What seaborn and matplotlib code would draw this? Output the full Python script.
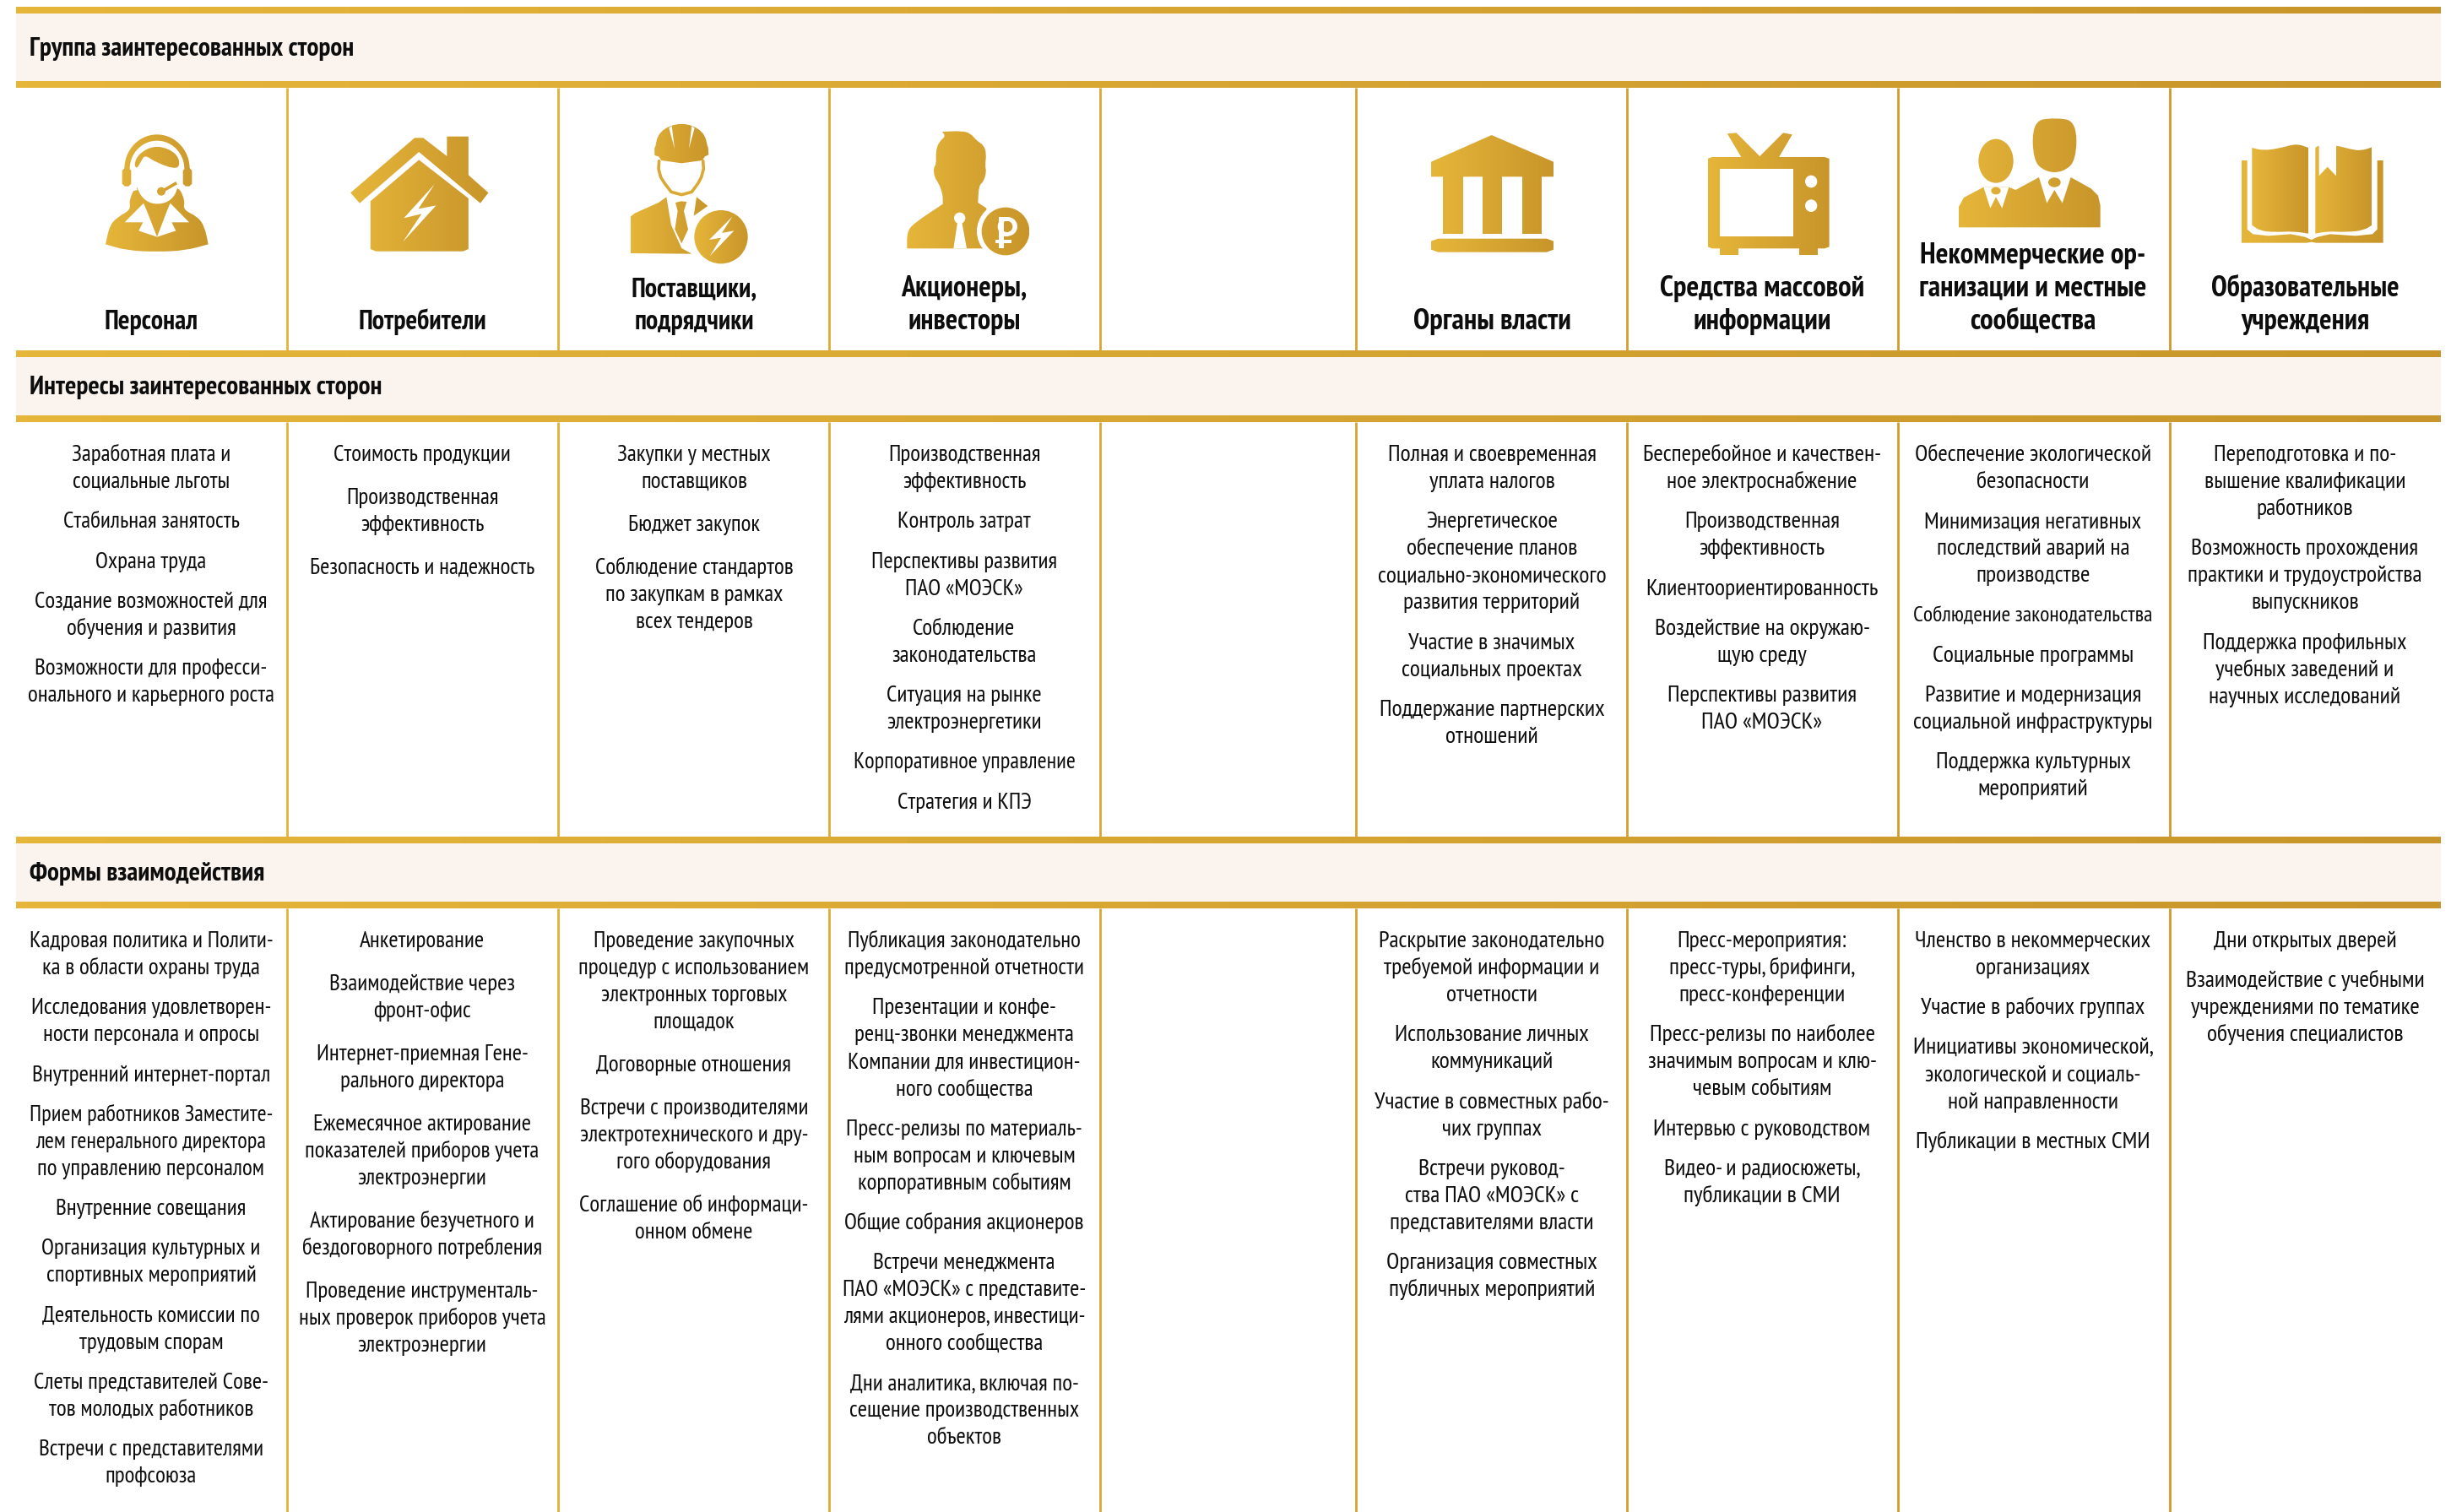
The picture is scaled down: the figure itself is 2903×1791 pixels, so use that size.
import warnings, logging
import numpy as np
import matplotlib
matplotlib.use("Agg")
import matplotlib.pyplot as plt
from matplotlib.path import Path
from matplotlib.patches import PathPatch
import seaborn as sns
logging.getLogger("matplotlib.font_manager").setLevel(logging.ERROR)

W, H = 2903, 1791
GOLD_L, GOLD_R = "#E6B63A", "#C8952A"
CREAM = "#FBF4EE"
INK = "#0D0D0D"

band_titles = ["Группа заинтересованных сторон", "Интересы заинтересованных сторон", "Формы взаимодействия"]

group_labels = [
    ["Персонал"], ["Потребители"], ["Поставщики,", "подрядчики"], ["Акционеры,", "инвесторы"], [],
    ["Органы власти"], ["Средства массовой", "информации"],
    ["Некоммерческие ор-", "ганизации и местные", "сообщества"], ["Образовательные", "учреждения"],
]

interests = [
    [["Заработная плата и", "социальные льготы"], ["Стабильная занятость"], ["Охрана труда"],
     ["Создание возможностей для", "обучения и развития"], ["Возможности для професси-", "онального и карьерного роста"]],
    [["Стоимость продукции"], ["Производственная", "эффективность"], ["Безопасность и надежность"]],
    [["Закупки у местных", "поставщиков"], ["Бюджет закупок"], ["Соблюдение стандартов", "по закупкам в рамках", "всех тендеров"]],
    [["Производственная", "эффективность"], ["Контроль затрат"], ["Перспективы развития", "ПАО «МОЭСК»"],
     ["Соблюдение", "законодательства"], ["Ситуация на рынке", "электроэнергетики"], ["Корпоративное управление"], ["Стратегия и КПЭ"]],
    [],
    [["Полная и своевременная", "уплата налогов"], ["Энергетическое", "обеспечение планов", "социально-экономического", "развития территорий"],
     ["Участие в значимых", "социальных проектах"], ["Поддержание партнерских", "отношений"]],
    [["Бесперебойное и качествен-", "ное электроснабжение"], ["Производственная", "эффективность"], ["Клиентоориентированность"],
     ["Воздействие на окружаю-", "щую среду"], ["Перспективы развития", "ПАО «МОЭСК»"]],
    [["Обеспечение экологической", "безопасности"], ["Минимизация негативных", "последствий аварий на", "производстве"],
     ["Соблюдение законодательства"], ["Социальные программы"], ["Развитие и модернизация", "социальной инфраструктуры"],
     ["Поддержка культурных", "мероприятий"]],
    [["Переподготовка и по-", "вышение квалификации", "работников"], ["Возможность прохождения", "практики и трудоустройства", "выпускников"],
     ["Поддержка профильных", "учебных заведений и", "научных исследований"]],
]

forms = [
    [["Кадровая политика и Полити-", "ка в области охраны труда"], ["Исследования удовлетворен-", "ности персонала и опросы"],
     ["Внутренний интернет-портал"], ["Прием работников Заместите-", "лем генерального директора", "по управлению персоналом"],
     ["Внутренние совещания"], ["Организация культурных и", "спортивных мероприятий"], ["Деятельность комиссии по", "трудовым спорам"],
     ["Слеты представителей Сове-", "тов молодых работников"], ["Встречи с представителями", "профсоюза"]],
    [["Анкетирование"], ["Взаимодействие через", "фронт-офис"], ["Интернет-приемная Гене-", "рального директора"],
     ["Ежемесячное актирование", "показателей приборов учета", "электроэнергии"], ["Актирование безучетного и", "бездоговорного потребления"],
     ["Проведение инструменталь-", "ных проверок приборов учета", "электроэнергии"]],
    [["Проведение закупочных", "процедур с использованием", "электронных торговых", "площадок"], ["Договорные отношения"],
     ["Встречи с производителями", "электротехнического и дру-", "гого оборудования"], ["Соглашение об информаци-", "онном обмене"]],
    [["Публикация законодательно", "предусмотренной отчетности"], ["Презентации и конфе-", "ренц-звонки менеджмента", "Компании для инвестицион-", "ного сообщества"],
     ["Пресс-релизы по материаль-", "ным вопросам и ключевым", "корпоративным событиям"], ["Общие собрания акционеров"],
     ["Встречи менеджмента", "ПАО «МОЭСК» с представите-", "лями акционеров, инвестици-", "онного сообщества"],
     ["Дни аналитика, включая по-", "сещение производственных", "объектов"]],
    [],
    [["Раскрытие законодательно", "требуемой информации и", "отчетности"], ["Использование личных", "коммуникаций"],
     ["Участие в совместных рабо-", "чих группах"], ["Встречи руковод-", "ства ПАО «МОЭСК» с", "представителями власти"],
     ["Организация совместных", "публичных мероприятий"]],
    [["Пресс-мероприятия:", "пресс-туры, брифинги,", "пресс-конференции"], ["Пресс-релизы по наиболее", "значимым вопросам и клю-", "чевым событиям"],
     ["Интервью с руководством"], ["Видео- и радиосюжеты,", "публикации в СМИ"]],
    [["Членство в некоммерческих", "организациях"], ["Участие в рабочих группах"], ["Инициативы экономической,", "экологической и социаль-", "ной направленности"],
     ["Публикации в местных СМИ"]],
    [["Дни открытых дверей"], ["Взаимодействие с учебными", "учреждениями по тематике", "обучения специалистов"]],
]

sns.set_theme(style="white")
plt.rcParams["font.family"] = ["PT Sans Narrow", "Liberation Sans Narrow", "DejaVu Sans"]
warnings.filterwarnings("ignore")

cmap = sns.blend_palette([GOLD_L, GOLD_R], n_colors=256, as_cmap=True)

fig = plt.figure(figsize=(W / 100, H / 100), dpi=100, facecolor="white")
ax = fig.add_axes([0, 0, 1, 1])
ax.set_axis_off()

grad = np.linspace(0, 1, 512).reshape(1, -1)
X0, X1 = 19, 2891
col_edges = [X0, 340, 661, 982, 1303, 1606, 1927, 2248, 2570, X1]
col_centers = [179, 500, 822, 1142, 0, 1767, 2087, 2408, 2730]
para_gap = [47.3, 51, 51, 47.3, 0, 47.3, 47.3, 47.3, 47.3]
body_size = [19.6, 19.6, 19.6, 19.6, 0, 20.1, 20.1, 20.1, 20.1]
label_size = [23, 23, 23, 24.4, 0, 25, 25, 25, 24.3]
size_override = {"Соблюдение законодательства": 18.6, "Прием работников Заместите-": 19.2,
                 "лем генерального директора": 19.2, "Корпоративное управление": 19.2,
                 "Договорные отношения": 19.6}
LINE = 32

def gfill(path, xr, z=3):
    im = ax.imshow(grad, cmap=cmap, vmin=0, vmax=1, aspect="auto", zorder=z,
                   extent=(xr[0], xr[1], H, 0), interpolation="bilinear")
    im.set_clip_path(PathPatch(path, transform=ax.transData, fc="none", ec="none"))

def smooth(pts):
    pts = np.asarray(pts, float)
    n = len(pts)
    verts = [(pts[-1] + pts[0]) / 2]
    codes = [Path.MOVETO]
    for i in range(n):
        m = (pts[i] + pts[(i + 1) % n]) / 2
        verts += [pts[i], m]
        codes += [Path.CURVE3, Path.CURVE3]
    return Path(verts, codes)

def poly(pts):
    return Path(list(pts) + [pts[0]], closed=True)

def ell(cx, cy, rx, ry):
    c = Path.unit_circle()
    return Path(c.vertices * [rx, ry] + [cx, cy], c.codes)

class Icon:
    def __init__(self, ox, oy, sx, sy, xr):
        self.ox, self.oy, self.sx, self.sy = ox, oy, sx, sy
        self.xr = (self.tx(xr[0]), self.tx(xr[1]))
    def tx(self, x): return self.ox + x / self.sx
    def ty(self, y): return self.oy + y / self.sy
    def conv(self, pts): return [(self.tx(x), self.ty(y)) for x, y in pts]
    def gold(self, path, z=3, xr=None):
        gfill(path, xr or self.xr, z)
    def white(self, path, z=3.5):
        ax.add_patch(PathPatch(path, fc="white", ec="none", zorder=z))
    def P(self, pts): return poly(self.conv(pts))
    def S(self, pts): return smooth(self.conv(pts))
    def E(self, cx, cy, rx, ry): return ell(self.tx(cx), self.ty(cy), rx / self.sx, ry / self.sy)
    def R(self, x0, y0, x1, y1):
        return self.P([(x0, y0), (x1, y0), (x1, y1), (x0, y1)])
    def RR(self, x0, y0, x1, y1, k):
        return self.P([(x0 + k, y0), (x1 - k, y0), (x1, y0 + k), (x1, y1 - k), (x1 - k, y1), (x0 + k, y1), (x0, y1 - k), (x0, y0 + k)])

# ---------- bands ----------
for top, bot in [(8, 96), (415, 492), (991, 1068)]:
    ax.add_patch(plt.Rectangle((X0, top), X1 - X0, bot - top, fc=CREAM, ec="none", zorder=1))
for y0, y1 in [(8, 16), (96, 104), (415, 423), (492, 500), (991, 999), (1068, 1076)]:
    ax.imshow(grad, cmap=cmap, vmin=0, vmax=1, aspect="auto", zorder=2,
              extent=(X0, X1, y1, y0), interpolation="bilinear")

# ---------- column rules ----------
pal = sns.blend_palette([GOLD_L, GOLD_R], n_colors=256)
for x in col_edges[1:-1]:
    c = pal[int(255 * (x - X0) / (X1 - X0))]
    for y0, y1 in [(104, 415), (500, 991), (1076, H)]:
        ax.plot([x, x], [y0, y1], color=c, lw=2.0, solid_capstyle="butt", zorder=2)

# ---------- text ----------
for title, yc in zip(band_titles, [56, 457, 1033]):
    ax.text(35, yc + 10, title, fontsize=22.5, fontweight="bold", color=INK, ha="left", va="baseline", zorder=5)

for cx, lab, sz in zip(col_centers, group_labels, label_size):
    for i, line in enumerate(reversed(lab)):
        ax.text(cx, 390 - i * 39, line, fontsize=sz, fontweight="bold", color=INK,
                ha="center", va="baseline", zorder=5)

def draw_col(paras, cx, y0, gap, size):
    y = y0
    for para in paras:
        for j, line in enumerate(para):
            ax.text(cx, y + j * LINE, line, fontsize=size_override.get(line, size), color=INK,
                    ha="center", va="baseline", zorder=5)
        y += (len(para) - 1) * LINE + gap

for i in range(9):
    draw_col(interests[i], col_centers[i], 546, para_gap[i], body_size[i])
    draw_col(forms[i], col_centers[i], 1122, para_gap[i], body_size[i])

# ---------- icons ----------
# 1 headset operator
ic = Icon(110, 150, 3, 3, (45, 410))
ic.gold(ic.S([(45, 418), (45, 418), (60, 350), (90, 320), (135, 295), (128, 262), (155, 205), (300, 205), (328, 262), (320, 295),
              (372, 320), (397, 355), (410, 418), (410, 418), (330, 440), (228, 445), (120, 440)]))
ic.white(ic.S([(150, 150), (155, 220), (185, 265), (232, 278), (280, 262), (305, 215), (305, 130), (230, 60), (170, 90)]))
ic.gold(ic.S([(155, 152), (172, 122), (185, 100), (225, 128), (305, 155), (308, 110), (270, 78), (215, 68), (165, 95), (146, 130)]), 3.7)
im = ax.imshow(grad, cmap=cmap, vmin=0, vmax=1, aspect="auto", zorder=3.8, extent=(ic.xr[0], ic.xr[1], H, 0))
arc = []
for t in np.linspace(np.pi, 2 * np.pi, 40):
    arc.append((228 + 116 * np.cos(t), 150 + 122 * np.sin(t)))
for t in np.linspace(2 * np.pi, np.pi, 40):
    arc.append((228 + 97 * np.cos(t), 150 + 100 * np.sin(t)))
im.set_clip_path(PathPatch(ic.P(arc), transform=ax.transData, fc="none", ec="none"))
ic.gold(ic.RR(104, 147, 136, 212, 9), 3.8)
ic.gold(ic.RR(320, 147, 352, 212, 9), 3.8)
ic.white(ic.P([(140, 205), (150, 205), (158, 225), (132, 232)]), 3.75)
ic.white(ic.P([(180, 272), (113, 340), (178, 340), (163, 370), (228, 392), (190, 295)]))
ic.white(ic.P([(275, 272), (342, 340), (280, 340), (295, 370), (228, 392), (265, 295)]))
ic.gold(ic.E(243, 230, 15, 15), 3.7)
ic.gold(ic.P([(243, 225), (295, 195), (300, 205), (248, 235)]), 3.7)

# 2 house with bolt
ic = Icon(0, 0, 1.568, 3, (651, 907))
ic.gold(ic.P([(651, 685), (770, 490), (786, 490), (830, 555), (830, 485), (870, 485), (870, 622), (907, 685), (892, 722),
              (778, 540), (668, 722)]))
ic.gold(ic.P([(778, 568), (870, 705), (870, 885), (860, 893), (698, 893), (688, 885), (688, 715)]))
ic.white(ic.P([(807, 655), (750, 775), (783, 760), (748, 860), (810, 730), (777, 742)]))

# 3 engineer with bolt
ic = Icon(730, 140, 3, 3, (50, 330))
ic.gold(ic.S([(136, 115), (136, 115), (150, 45), (232, 12), (312, 45), (327, 115), (327, 115)]))
ic.gold(ic.P([(140, 100), (325, 100), (328, 130), (315, 136), (305, 150), (232, 160), (160, 150), (150, 136), (136, 132), (136, 105)]))
ic.white(ic.P([(187, 35), (197, 27), (207, 108)]))
ic.white(ic.P([(268, 27), (278, 35), (258, 108)]))
xs = [152, 150, 158, 172, 195, 232, 268, 290, 302, 310, 308]
ys = [152, 180, 210, 232, 262, 272, 262, 232, 210, 180, 152]
ax.plot([ic.tx(v) for v in xs], [ic.ty(v) for v in ys], color=pal[100], lw=2.6, zorder=3.6)
ic.gold(ic.P([(50, 480), (50, 350), (65, 338), (150, 300), (178, 280), (195, 380), (232, 462), (268, 482)]))
ic.gold(ic.P([(285, 280), (325, 312), (275, 347)]))
ic.gold(ic.P([(210, 300), (230, 295), (250, 297), (240, 330), (255, 395), (232, 445), (208, 395), (218, 330)]))
ic.white(ic.E(372, 422, 108, 108))
ic.gold(ic.E(372, 422, 95, 95), 3.7, (ic.tx(277), ic.tx(467)))
ic.white(ic.P([(412, 350), (330, 432), (372, 425), (332, 490), (418, 400), (375, 408)]), 3.9)

# 4 shareholder with rouble
ic = Icon(1040, 140, 3, 3, (103, 537))
ic.gold(ic.S([(103, 463), (103, 463), (103, 405), (125, 375), (230, 305), (230, 305), (230, 270), (215, 230), (200, 210), (197, 175), (207, 165),
              (205, 120), (215, 85), (240, 65), (228, 48), (228, 48), (300, 45), (330, 55), (350, 80), (375, 95), (385, 125), (380, 170),
              (385, 190), (375, 225), (358, 240), (355, 300), (355, 300), (385, 320), (385, 320), (400, 463), (400, 463)]))
ic.white(ic.E(290, 355, 20, 20))
ic.white(ic.P([(282, 370), (298, 370), (315, 463), (268, 463)]))
ic.white(ic.E(453, 402, 102, 102))
ic.gold(ic.E(453, 402, 85, 85), 3.7)
ic.white(ic.E(460, 385, 35, 34), 3.9)
ic.gold(ic.E(458, 385, 20, 20), 3.92)
ic.white(ic.R(430, 350, 446, 462), 3.95)
ic.white(ic.R(430, 350, 462, 365), 3.95)
ic.white(ic.R(430, 405, 462, 420), 3.95)
ic.white(ic.R(416, 431, 474, 445), 3.95)

# 6 government building
ic = Icon(1500, 80, 1.1176, 3, (218, 380))
ic.gold(ic.P([(298, 240), (380, 335), (380, 388), (218, 388), (218, 335)]))
for a, b in [(234, 260), (286, 312), (339, 364)]:
    ic.gold(ic.R(a, 388, b, 590))
ic.gold(ic.RR(218, 608, 380, 656, 9))

# 7 television
ic = Icon(1500, 80, 1.1176, 3, (584, 745))
ic.gold(ic.P([(610, 235), (622, 232), (654, 318), (630, 325)]))
ic.gold(ic.P([(684, 232), (696, 238), (677, 325), (652, 318)]))
ic.gold(ic.RR(584, 318, 745, 643, 6))
ic.gold(ic.R(600, 640, 625, 665))
ic.gold(ic.R(705, 640, 730, 665))
ic.white(ic.R(600, 361, 697, 600))
ic.white(ic.E(721, 405, 8, 22))
ic.white(ic.E(721, 491, 8, 22))

# 8 two people
ic = Icon(2300, 130, 3, 3, (60, 563))
ic.gold(ic.E(192, 182, 62, 78))
ic.gold(ic.S([(400, 28), (478, 40), (478, 180), (430, 222), (370, 222), (323, 180), (323, 40)]))
ic.gold(ic.P([(60, 418), (60, 345), (78, 312), (148, 275), (238, 275), (262, 285), (345, 240), (458, 240), (530, 280),
              (555, 305), (563, 340), (563, 418)]))
ic.white(ic.P([(148, 275), (172, 350), (192, 310), (214, 350), (238, 275)]))
ic.white(ic.P([(345, 240), (373, 332), (400, 285), (428, 332), (458, 240)]))
ic.gold(ic.E(192, 288, 17, 13), 3.7)
ic.gold(ic.E(400, 258, 22, 17), 3.7)

# 9 open book
ic = Icon(2640, 160, 3, 3, (45, 548))
ic.gold(ic.P([(45, 90), (65, 90), (65, 335), (85, 352), (140, 358), (220, 352), (270, 362), (293, 372), (315, 362),
              (360, 352), (450, 358), (510, 352), (527, 335), (527, 90), (548, 90), (548, 383), (310, 383), (293, 380), (276, 383), (45, 383)]))
lp = (ic.tx(82), ic.tx(282))
rp = (ic.tx(307), ic.tx(508))
ic.gold(ic.S([(82, 45), (82, 45), (120, 55), (180, 47), (240, 30), (282, 45), (282, 45), (282, 350), (282, 350), (230, 342), (160, 345),
              (110, 340), (82, 320), (82, 320)]), 3, lp)
ic.gold(ic.S([(307, 45), (307, 45), (320, 36), (381, 36), (430, 50), (470, 56), (508, 43), (508, 43), (508, 320), (508, 320), (480, 338), (420, 345),
              (350, 342), (307, 350), (307, 350)]), 3, rp)
ic.white(ic.P([(320, 30), (381, 30), (381, 145), (350, 113), (320, 145)]))

ax.set_xlim(0, W)
ax.set_ylim(H, 0)
fig.savefig("out.png", dpi=100, facecolor="white")
